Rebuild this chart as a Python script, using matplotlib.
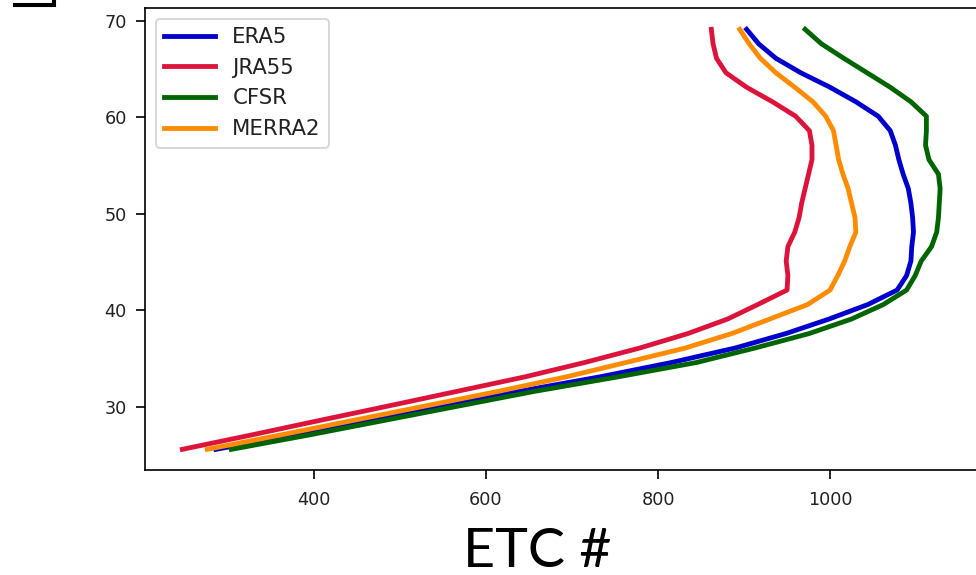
import numpy as np
import matplotlib.pyplot as plt
from matplotlib.lines import Line2D

# latitude of each sample (deg N)
lat = [25.6, 27.1, 28.6, 30.1, 31.6, 33.1, 34.6, 36.1, 37.6, 39.1,
       40.6, 42.1, 43.6, 45.1, 46.6, 48.1, 49.6, 51.1, 52.6, 54.1,
       55.6, 57.1, 58.6, 60.1, 61.6, 63.1, 64.6, 66.1, 67.6, 69.1]

# ETC counts per latitude for each reanalysis
era5 = [286, 378, 465, 551, 638, 732, 816, 890, 949, 999,
        1044, 1078, 1089, 1094, 1095, 1097, 1096, 1094, 1091, 1085,
        1080, 1076, 1070, 1056, 1030, 1000, 966, 937, 917, 903]
jra55 = [247, 328, 407, 487, 566, 645, 715, 779, 835, 881,
         916, 950, 951, 949, 951, 959, 964, 967, 971, 975,
         979, 979, 976, 960, 933, 903, 879, 868, 864, 862]
cfsr = [304, 395, 482, 569, 656, 753, 845, 913, 976, 1025,
        1062, 1089, 1099, 1106, 1118, 1124, 1126, 1127, 1128, 1126,
        1115, 1111, 1112, 1112, 1094, 1070, 1043, 1016, 990, 971]
merra2 = [276, 362, 446, 530, 614, 693, 763, 832, 886, 930,
          974, 1000, 1009, 1017, 1023, 1030, 1029, 1025, 1021, 1015,
          1010, 1007, 1004, 995, 980, 959, 937, 919, 906, 895]

names = ['ERA5', 'JRA55', 'CFSR', 'MERRA2']
colors = ['mediumblue', 'crimson', 'darkgreen', 'darkorange']

W, H = 976, 575
dpi = 400 / 3.0
fig = plt.figure(figsize=(W / dpi, H / dpi), dpi=dpi)
ax = fig.add_axes([145 / W, 1 - 470 / H, 833 / W, 462 / H])

for vals, name, c in zip([era5, jra55, cfsr, merra2], names, colors):
    ax.plot(vals, lat, color=c, lw=2.6, label=name)

ax.set_xlim(203.6, 1172)
ax.set_ylim(23.46, 71.31)
ax.set_xticks([400, 600, 800, 1000])
ax.set_yticks([30, 40, 50, 60, 70])
ax.tick_params(labelsize=9.5, length=4.8, width=0.9, pad=5, labelcolor='#222222')
ax.tick_params(axis='x', pad=6.5)
for sp in ax.spines.values():
    sp.set_linewidth(0.9)

leg = ax.legend(loc='upper left', fontsize=11.5, handlelength=2.4)
for t in leg.get_texts():
    t.set_color('#222222')

fig.text(537 / W, 1 - 567 / H, 'ETC #', ha='center', va='baseline',
         fontsize=30, family=['Lato', 'DejaVu Sans'])

# corner of the neighbouring panel bracket
fig.add_artist(Line2D([15 / W, 54 / W, 54 / W], [1 - 5 / H, 1 - 5 / H, 1.01],
                      color='black', lw=2.2, solid_joinstyle='miter',
                      transform=fig.transFigure))

fig.savefig('out.png', dpi=dpi)
